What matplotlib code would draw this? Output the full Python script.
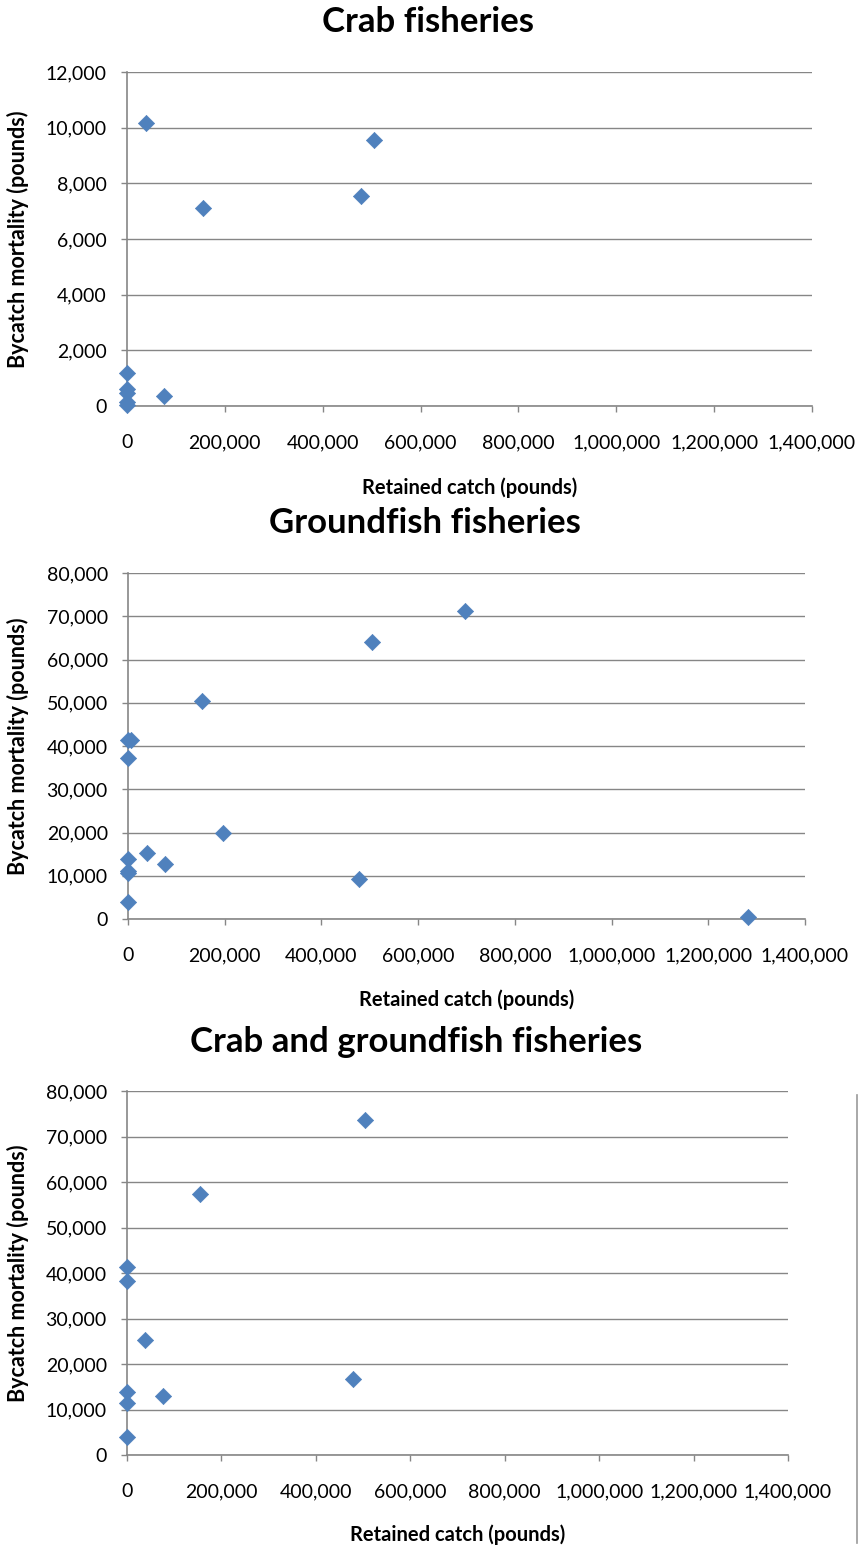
import matplotlib
matplotlib.use("Agg")
import matplotlib.pyplot as plt
from matplotlib.lines import Line2D
from matplotlib.ticker import FuncFormatter, MultipleLocator
from matplotlib.transforms import blended_transform_factory

plt.rcParams['font.family'] = ['Lato', 'DejaVu Sans']

# data (pounds)
crab_catch = [38000, 505000, 478000, 155000, 76000, 0, 0, 0, 0, 0]
crab_bycatch = [10150, 9550, 7550, 7100, 350, 1200, 600, 450, 150, 50]

ground_catch = [697000, 505000, 152000, 196000, 39000, 76000, 478000, 1282000,
                0, 7000, 0, 0, 0, 0, 0]
ground_bycatch = [71300, 64000, 50300, 19900, 15300, 12700, 9300, 500,
                  41300, 41500, 37200, 13900, 11200, 10700, 4000]

both_catch = [505000, 155000, 39000, 76000, 479000, 0, 0, 0, 0, 0]
both_bycatch = [73600, 57300, 25300, 13000, 16800, 41400, 38300, 13800, 11400, 4000]

titles = ['Crab fisheries', 'Groundfish fisheries', 'Crab and groundfish fisheries']
xlabel = 'Retained catch (pounds)'
ylabel = 'Bycatch mortality (pounds)'

W, H = 858, 1547
fig = plt.figure(figsize=(W / 100, H / 100), dpi=100)

grey = '#868686'
blue = '#4F81BD'
comma = FuncFormatter(lambda v, p: f'{int(v):,}')

# pixel boxes: left, right, top, bottom ; title centre x, y ; xlabel top
panels = [
    dict(box=(127, 812, 72, 406), ymax=12000, ystep=2000, title=(428, 22), xl=477,
         x=crab_catch, y=crab_bycatch),
    dict(box=(128, 805, 573, 919), ymax=80000, ystep=10000, title=(425, 523), xl=989,
         x=ground_catch, y=ground_bycatch),
    dict(box=(127, 788, 1091, 1455), ymax=80000, ystep=10000, title=(416, 1042), xl=1524,
         x=both_catch, y=both_bycatch),
]

for p, t in zip(panels, titles):
    l, r, top, b = p['box']
    ax = fig.add_axes([l / W, 1 - b / H, (r - l) / W, (b - top) / H])
    ax.scatter(p['x'], p['y'], marker='D', s=68, color=blue, edgecolor=blue,
               linewidth=0.5, zorder=3, clip_on=False)
    ax.set_xlim(0, 1400000)
    ax.set_ylim(0, p['ymax'])
    ax.xaxis.set_major_locator(MultipleLocator(200000))
    ax.yaxis.set_major_locator(MultipleLocator(p['ystep']))
    ax.xaxis.set_major_formatter(comma)
    ax.yaxis.set_major_formatter(comma)
    ax.grid(axis='y', color=grey, linewidth=1.0)
    ax.set_axisbelow(True)
    for s in ['top', 'right']:
        ax.spines[s].set_visible(False)
    for s in ['left', 'bottom']:
        ax.spines[s].set_color(grey)
        ax.spines[s].set_linewidth(1.2)
    ax.tick_params(axis='x', length=4.5, width=1, color=grey, pad=16, labelsize=14)
    ax.tick_params(axis='y', length=4.5, width=1, color=grey, pad=10, labelsize=14)

    ax.set_xlabel(xlabel, fontsize=14.5, fontweight='bold')
    ax.xaxis.set_label_coords(0.5, 1 - p['xl'] / H,
                              transform=blended_transform_factory(ax.transAxes, fig.transFigure))
    ax.set_ylabel(ylabel, fontsize=15.5, fontweight='bold')
    ax.yaxis.set_label_coords(29 / W, 0.5,
                              transform=blended_transform_factory(fig.transFigure, ax.transAxes))

    tx, ty = p['title']
    fig.text(tx / W, 1 - ty / H, t, ha='center', va='center', fontsize=25,
             fontweight='bold')

# thin border line at the right of the last chart
fig.add_artist(Line2D([856.5 / W, 856.5 / W], [1 - 1095 / H, 1 - 1543 / H],
                      transform=fig.transFigure, color='#999999', linewidth=1.2))

fig.savefig('out.png', dpi=100)
